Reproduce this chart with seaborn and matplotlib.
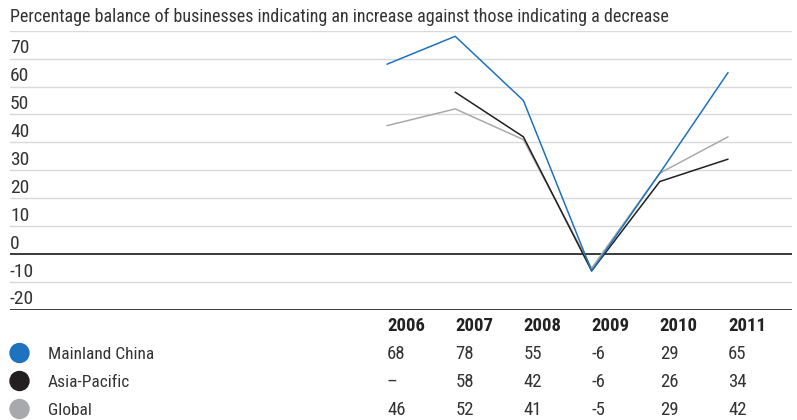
import numpy as np
import pandas as pd
import matplotlib
matplotlib.use("Agg")
import matplotlib.pyplot as plt
from matplotlib import font_manager
import seaborn as sns

# ---- data -------------------------------------------------------------
years = [2006, 2007, 2008, 2009, 2010, 2011]
series_names = ["Mainland China", "Asia-Pacific", "Global"]
mainland_china = [68, 78, 55, -6, 29, 65]
asia_pacific = [np.nan, 58, 42, -6, 26, 34]
global_vals = [46, 52, 41, -5, 29, 42]
y_ticks = [80, 70, 60, 50, 40, 30, 20, 10, 0, -10, -20]
y_tick_labels = ["70", "60", "50", "40", "30", "20", "10", "0", "-10", "-20"]
subtitle = ("Percentage balance of businesses indicating an increase "
            "against those indicating a decrease")

colors = {"Mainland China": "#1f72bd", "Asia-Pacific": "#231f20",
          "Global": "#a7a9ac"}
text_color = "#333333"

# ---- style ------------------------------------------------------------
sns.set_theme(style="white")
available = {f.name for f in font_manager.fontManager.ttflist}
family = next((f for f in ["Roboto Condensed", "Liberation Sans Narrow",
                           "DejaVu Sans Condensed", "Lato"] if f in available),
              "DejaVu Sans")
plt.rcParams["font.family"] = [family, "DejaVu Sans"]

W, H = 797, 420
fig = plt.figure(figsize=(W / 100, H / 100), dpi=100)


def fx(px):
    return px / W


def fy(py):
    return 1 - py / H


# chart area: value 80 at y=30.7px, value -20 at y=310px
top_px, bot_px = 30.7, 310.0
left_px, right_px = 10, 792
ax = fig.add_axes([fx(left_px), fy(bot_px), fx(right_px - left_px),
                   (bot_px - top_px) / H])

long_df = pd.DataFrame({
    "year": years * 3,
    "series": sum([[n] * len(years) for n in series_names], []),
    "value": mainland_china + asia_pacific + global_vals,
}).dropna()

# light gridlines, darker zero and baseline
for v in y_ticks:
    dark = v in (0, -20)
    ax.axhline(v, color="#2b2b2b" if dark else "#d9d9d9",
               lw=1.3 if dark else 1.0, zorder=1)

# lines: grey first, then black, then blue on top
for name in ["Global", "Asia-Pacific", "Mainland China"]:
    sns.lineplot(data=long_df[long_df["series"] == name], x="year", y="value",
                 color=colors[name], lw=1.1, ax=ax, legend=False, zorder=3)

px_per_year = (728 - 387) / 5
ax.set_xlim(2006 - (387 - left_px) / px_per_year,
            2011 + (right_px - 728) / px_per_year)
ax.set_ylim(-20, 80)
ax.set_xlabel("")
ax.set_ylabel("")
ax.set_xticks([])
ax.set_yticks([])
for s in ax.spines.values():
    s.set_visible(False)

# y labels sit just above their gridline
unit = (bot_px - top_px) / 100
for lab in y_tick_labels:
    v = float(lab)
    line_px = bot_px - (v + 20) * unit
    fig.text(fx(10), fy(line_px - 5.5), lab, fontsize=14, color=text_color,
             ha="left", va="baseline")

fig.text(fx(10), fy(22), subtitle, fontsize=13, color=text_color,
         ha="left", va="baseline")

# ---- table below the chart ---------------------------------------------
col_px = [387 + i * px_per_year for i in range(len(years))]
for xp, yr in zip(col_px, years):
    fig.text(fx(xp), fy(331), str(yr), fontsize=13.5, fontweight="bold",
             color="#222222", ha="left", va="baseline")

rows = [("Mainland China", mainland_china), ("Asia-Pacific", asia_pacific),
        ("Global", global_vals)]
for i, (name, vals) in enumerate(rows):
    base = 359 + i * 28
    fig.patches.append(matplotlib.patches.Ellipse(
        (fx(19.5), fy(base - 6)), 19 / W, 19 / H, transform=fig.transFigure,
        color=colors[name], figure=fig))
    fig.text(fx(48), fy(base), name, fontsize=12.5, color=text_color,
             ha="left", va="baseline")
    for xp, v in zip(col_px, vals):
        s = "\u2013" if np.isnan(v) else f"{int(v)}"
        fig.text(fx(xp), fy(base), s, fontsize=13.5, color=text_color,
                 ha="left", va="baseline")

fig.savefig("out.png", dpi=100)
